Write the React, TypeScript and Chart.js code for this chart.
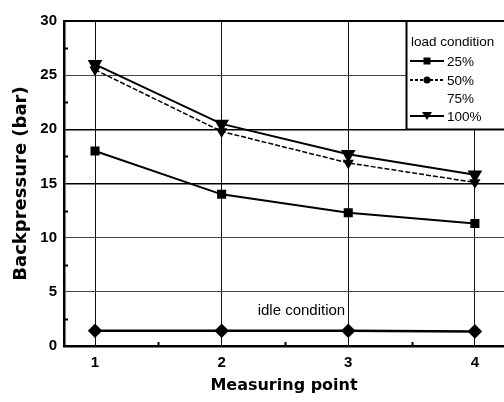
import React, { useEffect, useRef } from "react";
import { Chart, registerables } from "chart.js";

Chart.register(...registerables);

const measuringPoints = [1, 2, 3, 4];
const load25 = [18.0, 14.0, 12.3, 11.3];
const load50 = [25.5, 19.8, 16.9, 15.1];
const load100 = [26.0, 20.5, 17.7, 15.8];
const idle = [1.4, 1.4, 1.4, 1.35];
const yTicks = [0, 5, 10, 15, 20, 25, 30];
const legendTitle = "load condition";
const legendLabels = ["25%", "50%", "75%", "100%"];
const idleLabel = "idle condition";

const FONT_TEXT = "'Liberation Sans', Arial, sans-serif";
const FONT_TITLE = "'DejaVu Sans', sans-serif";

const overlayPlugin = {
  id: "overlay",
  beforeDatasetsDraw(chart: any) {
    const { ctx, chartArea, scales } = chart;
    const x = scales.x;
    const y = scales.y;
    ctx.save();
    ctx.strokeStyle = "#000";
    ctx.lineWidth = 2;
    for (let v = 2.5; v < 30; v += 5) {
      const py = Math.round(y.getPixelForValue(v)) + 0.5;
      ctx.beginPath();
      ctx.moveTo(chartArea.left, py);
      ctx.lineTo(chartArea.left + 4, py);
      ctx.stroke();
    }
    [1.5, 2.5, 3.5].forEach((v) => {
      const px = Math.round(x.getPixelForValue(v)) + 0.5;
      ctx.beginPath();
      ctx.moveTo(px, chartArea.bottom);
      ctx.lineTo(px, chartArea.bottom - 4);
      ctx.stroke();
    });
    ctx.lineWidth = 2;
    ctx.beginPath();
    ctx.moveTo(chartArea.left, chartArea.top);
    ctx.lineTo(chartArea.right + 2, chartArea.top);
    ctx.stroke();
    ctx.restore();
  },
  afterDatasetsDraw(chart: any) {
    const { ctx, chartArea, scales } = chart;
    const x = scales.x;
    const y = scales.y;
    ctx.save();
    ctx.fillStyle = "#000";
    ctx.font = `15px ${FONT_TEXT}`;
    ctx.textAlign = "center";
    ctx.textBaseline = "alphabetic";
    ctx.fillText(idleLabel, x.getPixelForValue(2.63), y.getPixelForValue(2.9));

    const bx = 406.5;
    const by = chartArea.top;
    const bb = y.getPixelForValue(20);
    ctx.fillStyle = "#fff";
    ctx.fillRect(bx, by, chartArea.right - bx + 2, bb - by);
    ctx.strokeStyle = "#000";
    ctx.lineWidth = 2;
    ctx.beginPath();
    ctx.moveTo(bx, bb);
    ctx.lineTo(bx, by);
    ctx.lineTo(chartArea.right + 2, by);
    ctx.stroke();
    ctx.lineWidth = 1.5;
    ctx.beginPath();
    ctx.moveTo(bx, bb);
    ctx.lineTo(chartArea.right + 2, bb);
    ctx.stroke();

    ctx.fillStyle = "#000";
    ctx.font = `13.5px ${FONT_TEXT}`;
    ctx.textAlign = "left";
    ctx.textBaseline = "middle";
    ctx.fillText(legendTitle, 411, 42);
    const rows = [61, 80, 98, 116];
    legendLabels.forEach((lab, i) => {
      const ry = rows[i];
      ctx.fillText(lab, 447, ry + 1);
      if (i === 2) return;
      ctx.strokeStyle = "#000";
      ctx.lineWidth = 2;
      ctx.setLineDash(i === 1 ? [3, 2] : []);
      ctx.beginPath();
      ctx.moveTo(410, ry);
      ctx.lineTo(444, ry);
      ctx.stroke();
      ctx.setLineDash([]);
      ctx.fillStyle = "#000";
      const mx = 427;
      if (i === 0) {
        ctx.fillRect(mx - 3.5, ry - 3.5, 7, 7);
      } else if (i === 1) {
        ctx.beginPath();
        ctx.arc(mx, ry, 3.5, 0, Math.PI * 2);
        ctx.fill();
      } else {
        ctx.beginPath();
        ctx.moveTo(mx - 5, ry - 4);
        ctx.lineTo(mx + 5, ry - 4);
        ctx.lineTo(mx, ry + 4);
        ctx.closePath();
        ctx.fill();
      }
    });
    ctx.restore();
  },
};

export default function App() {
  const canvasRef = useRef<HTMLCanvasElement | null>(null);

  useEffect(() => {
    const canvas = canvasRef.current;
    if (!canvas) return;
    const toXY = (arr: number[]) => arr.map((v, i) => ({ x: measuringPoints[i], y: v }));
    const chart = new Chart(canvas, {
      type: "line",
      data: {
        datasets: [
          {
            label: "100%",
            data: toXY(load100),
            borderColor: "#000",
            backgroundColor: "#000",
            borderWidth: 2,
            pointStyle: "triangle",
            rotation: 180,
            pointRadius: 6.5,
            tension: 0,
          },
          {
            label: "50%",
            data: toXY(load50),
            borderColor: "#000",
            backgroundColor: "#000",
            borderWidth: 1.5,
            borderDash: [5, 2],
            pointStyle: "triangle",
            rotation: 180,
            pointRadius: 5,
            tension: 0,
          },
          {
            label: "25%",
            data: toXY(load25),
            borderColor: "#000",
            backgroundColor: "#000",
            borderWidth: 2,
            pointStyle: "rect",
            pointRadius: 5,
            tension: 0,
          },
          {
            label: "idle",
            data: toXY(idle),
            borderColor: "#000",
            backgroundColor: "#000",
            borderWidth: 2.5,
            pointStyle: "rectRot",
            pointRadius: 5.5,
            tension: 0,
          },
        ],
      },
      options: {
        responsive: false,
        animation: false,
        events: [],
        layout: { autoPadding: false, padding: { left: 0, top: 21, right: 0, bottom: 0 } },
        plugins: { legend: { display: false }, tooltip: { enabled: false } },
        scales: {
          x: {
            type: "linear",
            min: 0.755,
            max: 4.23,
            afterFit: (s: any) => {
              s.height = 56;
              s.paddingLeft = 0;
              s.paddingRight = 0;
            },
            afterBuildTicks: (s: any) => {
              s.ticks = measuringPoints.map((v) => ({ value: v }));
            },
            grid: {
              color: "#111",
              lineWidth: 1,
              drawTicks: false,
            },
            border: { color: "#000", width: 2.5 },
            ticks: {
              color: "#000",
              font: { family: FONT_TEXT, size: 15, weight: "bold" },
              padding: 8,
              maxRotation: 0,
            },
            title: {
              display: true,
              text: "Measuring point",
              color: "#000",
              font: { family: FONT_TITLE, size: 16, weight: "bold" },
              padding: { top: 0, bottom: 7 },
            },
          },
          y: {
            min: 0,
            max: 30,
            afterFit: (s: any) => {
              s.width = 64;
              s.paddingTop = 0;
              s.paddingBottom = 0;
            },
            afterBuildTicks: (s: any) => {
              s.ticks = yTicks.map((v) => ({ value: v }));
            },
            grid: {
              color: (c: any) => (c.tick && (c.tick.value === 15 || c.tick.value === 20) ? "#000" : "#444"),
              lineWidth: (c: any) => (c.tick && (c.tick.value === 15 || c.tick.value === 20) ? 1.6 : 1),
              drawTicks: false,
            },
            border: { color: "#000", width: 2.5 },
            ticks: {
              color: "#000",
              font: { family: FONT_TEXT, size: 15, weight: "bold" },
              padding: 7,
            },
            title: {
              display: true,
              text: "Backpressure (bar)",
              color: "#000",
              font: { family: FONT_TITLE, size: 18, weight: "bold" },
              padding: { top: 11, bottom: 0 },
            },
          },
        },
      },
      plugins: [overlayPlugin],
    } as any);
    return () => chart.destroy();
  }, []);

  return (
    <div style={{ position: "fixed", left: 0, top: 0, width: 504, height: 402, background: "#fff" }}>
      <canvas ref={canvasRef} width={504} height={402} style={{ display: "block" }} />
    </div>
  );
}
